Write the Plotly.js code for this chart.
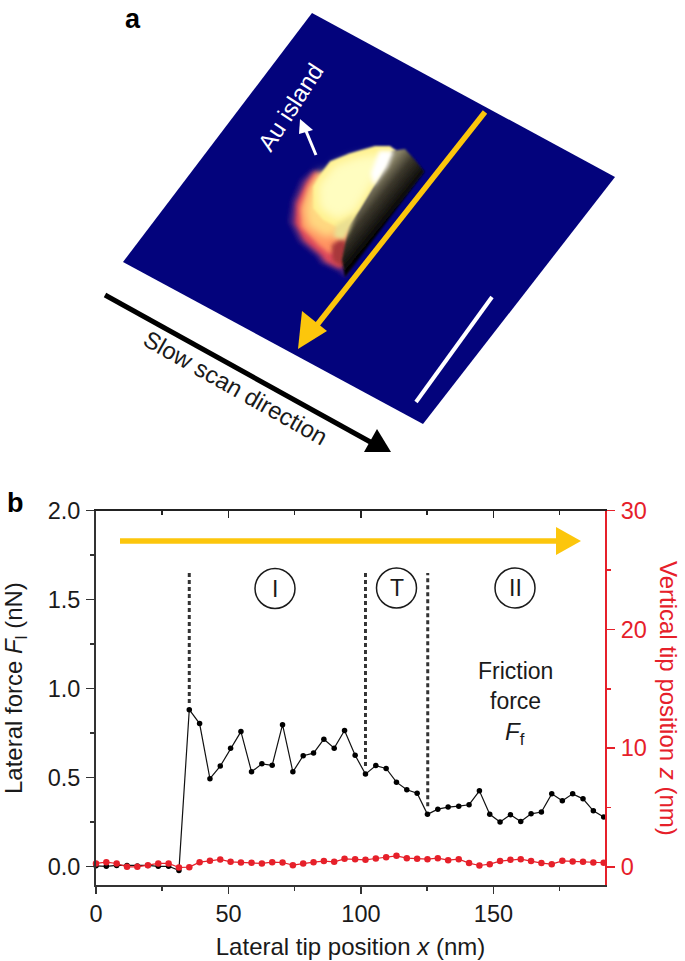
<!DOCTYPE html>
<html>
<head>
<meta charset="utf-8">
<script src="https://cdn.plot.ly/plotly-3.0.1.min.js"></script>
<style>html,body{margin:0;padding:0;background:#fff}#chart{width:685px;height:961px}</style>
</head>
<body>
<div id="chart"></div>
<script>
const tipPosition = [0,3.9,7.8,11.7,15.6,19.6,23.5,27.4,31.3,35.2,39.1,43,46.9,50.8,54.7,58.7,62.6,66.5,70.4,74.3,78.2,82.1,86,89.9,93.8,97.8,101.7,105.6,109.5,113.4,117.3,121.2,125.1,129,132.9,136.9,140.8,144.7,148.6,152.5,156.4,160.3,164.2,168.1,172,176,179.9,183.8,187.7,191.6];
const lateralForce = [0.005,0.002,0.007,0.007,0.004,0.007,0.002,0.002,-0.021,0.882,0.804,0.494,0.565,0.666,0.759,0.533,0.578,0.570,0.798,0.533,0.623,0.638,0.716,0.666,0.765,0.626,0.520,0.568,0.552,0.475,0.432,0.413,0.294,0.323,0.335,0.340,0.348,0.426,0.294,0.251,0.292,0.254,0.297,0.307,0.409,0.370,0.409,0.381,0.314,0.279];
const verticalPosition = [0.28,0.39,0.28,0,0,0.14,0.28,0.28,-0.06,-0.03,0.39,0.5,0.62,0.42,0.36,0.34,0.28,0.39,0.36,0.14,0.28,0.39,0.48,0.42,0.67,0.64,0.59,0.7,0.81,0.92,0.73,0.67,0.64,0.73,0.56,0.64,0.31,0.11,0.22,0.48,0.59,0.64,0.48,0.31,0.22,0.5,0.45,0.42,0.36,0.34];
const regionLabels = ['I','T','II'];

const W = 685, H = 961;
const FONT = 'Liberation Sans, Arial, sans-serif';
const INK = '#1a1a1a', RED = '#e6202a', GOLD = '#fcc60c', NAVY = '#03037c';
const px = x => x / W, py = y => 1 - y / H;
const path = pts => 'M' + pts.map(p => px(p[0]).toFixed(5) + ',' + py(p[1]).toFixed(5)).join('L') + 'Z';
const poly = (pts, fill, layer) => ({type:'path', xref:'paper', yref:'paper', path:path(pts), fillcolor:fill, line:{width:0}, layer:layer||'above'});
const seg = (a, b, color, width) => ({type:'line', xref:'paper', yref:'paper', x0:px(a[0]), y0:py(a[1]), x1:px(b[0]), y1:py(b[1]), line:{color, width}, layer:'above'});
const vdash = (x, y0, y1) => ({type:'line', xref:'x', yref:'y', x0:x, x1:x, y0, y1, line:{color:'#333', width:3, dash:'4px,3px'}, layer:'above'});
const circle = (cx, cy, r) => ({type:'circle', xref:'paper', yref:'paper', x0:px(cx-r), x1:px(cx+r), y0:py(cy+r), y1:py(cy-r), line:{color:INK, width:1.5}, layer:'above'});
const note = (text, x, y, size, color, extra) => Object.assign({text, xref:'paper', yref:'paper', x:px(x), y:py(y), xanchor:'center', yanchor:'middle', showarrow:false, font:{family:FONT, size, color:color||INK}}, extra||{});

const blob = `<svg xmlns="http://www.w3.org/2000/svg" viewBox="0 0 510 480" width="510" height="480">
<defs>
<filter id="b3" x="-30%" y="-30%" width="160%" height="160%"><feGaussianBlur stdDeviation="3"/></filter>
<filter id="b6" x="-30%" y="-30%" width="160%" height="160%"><feGaussianBlur stdDeviation="7"/></filter>
<filter id="b12" x="-30%" y="-30%" width="160%" height="160%"><feGaussianBlur stdDeviation="14"/></filter>
<linearGradient id="dark" gradientUnits="userSpaceOnUse" x1="265" y1="180" x2="345" y2="245"><stop offset="0" stop-color="#8a8468"/><stop offset="0.4" stop-color="#3c382c"/><stop offset="1" stop-color="#020202"/></linearGradient>
</defs>
<polygon filter="url(#b6)" fill="#5a2a80" fill-opacity="0.75" points="98,118 62,150 36,210 26,275 56,335 110,380 120,398 175,424 195,442 215,400 200,300 150,200"/>
<polygon filter="url(#b6)" fill="#dd4a5c" points="108,120 78,155 48,220 44,280 72,332 122,375 136,395 178,415 202,398 210,300 150,200"/>
<polygon filter="url(#b6)" fill="#ff9060" points="118,125 85,175 62,235 64,290 115,345 150,372 200,340 210,260 160,160"/>
<polygon filter="url(#b6)" fill="#a8383a" points="155,345 190,320 212,370 190,412 158,392"/>
<polygon filter="url(#b12)" fill="#ffd880" points="122,120 90,175 72,235 82,290 140,325 195,300 225,250 160,150"/>
<polygon filter="url(#b3)" fill="#fff08c" points="285,48 330,48 348,62 320,115 230,262 200,295 170,290 130,270 100,235 100,170 126,125 150,94 210,70"/>
<polygon filter="url(#b12)" fill="#fffdc0" points="292,72 322,88 225,245 170,270 118,235 115,165 165,105 230,82"/>
<polygon filter="url(#b3)" fill="url(#dark)" points="335,62 375,57 405,90 434,125 195,442 186,390 205,290 240,240 300,140"/>
<polygon filter="url(#b6)" fill="#ffffff" points="298,62 342,62 322,112 280,168 272,130"/>
<polygon filter="url(#b6)" fill="#eadf92" points="168,286 226,252 208,300 192,330 160,320"/>
</svg>`;

const yellowArrow = [seg([485,112],[313,330],GOLD,5.5), poly([[298,349],[302,311],[327,331]],GOLD)];
const topArrow = [seg([120,541],[558,541],GOLD,5.5), poly([[581,541],[556,527],[556,555]],GOLD)];
const blackArrow = [seg([105,295],[374,444],'#000',5), poly([[364,452],[391,452],[377,429]],'#000')];
const whiteArrow = [seg([316,155],[306,131],'#fff',3), poly([[300,119],[299,134],[313,130]],'#fff')];

const shapes = [
  poly([[312,13],[615,177],[423,424],[123,262]],NAVY,'below'),
  ...whiteArrow, ...yellowArrow, ...blackArrow,
  seg([492,297],[416,402],'#fff',4),
  ...topArrow,
  vdash(35.2,0.92,1.65), vdash(101.7,0.565,1.66), vdash(125.2,0.34,1.65),
  circle(275,588.5,20), circle(396.5,588,20), circle(515,588,20)
];

const annotations = [
  note('<b>a</b>',133,19,27,'#000'),
  note('<b>b</b>',15,503,27,'#000'),
  note('Au island',290,107,24,'#fff',{textangle:-57}),
  note('Slow scan direction',235,388,24,INK,{textangle:29.5}),
  note(regionLabels[0],275,588.5,23), note(regionLabels[1],396.5,588,23), note(regionLabels[2],515,588,23),
  note('Friction',515,671,23), note('force',515,701,23), note('<i>F</i><sub>f</sub>',515,733,24),
  note('Lateral force <i>F</i><sub>l</sub> (nN)',15,688,24,INK,{textangle:-90}),
  note('Vertical tip position <i>z</i> (nm)',669,698,24,RED,{textangle:90})
];

const axisBase = {showgrid:false, zeroline:false, showline:true, ticks:'outside', ticklen:8, tickwidth:1.5,
  tickfont:{family:FONT, size:23.5, color:INK}, linewidth:2, linecolor:'#333', tickcolor:'#333'};

const layout = {
  width:W, height:H, margin:{l:0,r:0,t:0,b:0}, paper_bgcolor:'#fff', plot_bgcolor:'rgba(0,0,0,0)', showlegend:false,
  font:{family:FONT},
  xaxis: Object.assign({}, axisBase, {domain:[px(96),px(605)], range:[0,192.1], anchor:'y', ticklen:7, tickvals:[0,50,100,150], ticktext:['0','50','100','150'],
    minor:{tickvals:[25,75,125,175], ticks:'outside', ticklen:4, tickwidth:1.5, tickcolor:'#333'}, ticklabelstandoff:0,
    title:{text:'Lateral tip position <i>x</i> (nm)', font:{family:FONT,size:24,color:INK}, standoff:12}}),
  xaxis2: {overlaying:'x', side:'top', anchor:'y', range:[0,192.1], showgrid:false, zeroline:false, showline:true, linewidth:1.5, linecolor:'#222',
    ticks:'inside', ticklen:7, tickwidth:1.5, tickcolor:'#222', tickvals:[0,50,100,150], showticklabels:false,
    minor:{tickvals:[25,75,125,175], ticks:'inside', ticklen:4, tickwidth:1.5, tickcolor:'#222'}},
  yaxis: Object.assign({}, axisBase, {domain:[1-885/H,1-510.7/H], range:[-0.103,2], anchor:'x', tickvals:[0,0.5,1,1.5,2], ticktext:['0.0','0.5','1.0','1.5','2.0'],
    minor:{tickvals:[0.25,0.75,1.25,1.75], ticks:'outside', ticklen:4, tickwidth:1.5, tickcolor:'#333'}, ticklabelstandoff:1}),
  yaxis2: {overlaying:'y', side:'right', anchor:'x', range:[-1.534,30], showgrid:false, zeroline:false, showline:true, linewidth:2, linecolor:RED,
    ticks:'outside', ticklen:8, tickwidth:1.5, tickcolor:RED, tickvals:[0,10,20,30], ticktext:['0','10','20','30'],
    tickfont:{family:FONT,size:23.5,color:RED}, ticklabelstandoff:1,
    minor:{tickvals:[5,15,25], ticks:'outside', ticklen:4, tickwidth:1.5, tickcolor:RED}},
  shapes, annotations,
  images:[{source:'data:image/svg+xml;charset=utf-8,'+encodeURIComponent(blob), xref:'paper', yref:'paper', x:px(280), y:py(130), sizex:170/W, sizey:160/H, xanchor:'left', yanchor:'top', sizing:'stretch', layer:'above'}]
};

const traces = [
  {type:'scatter', mode:'lines+markers', x:tipPosition, y:lateralForce, xaxis:'x', yaxis:'y', cliponaxis:false,
   line:{color:'#111', width:1.2}, marker:{color:'#000', size:5.5}},
  {type:'scatter', mode:'lines+markers', x:tipPosition, y:verticalPosition, xaxis:'x', yaxis:'y2', cliponaxis:false,
   line:{color:RED, width:1.2}, marker:{color:RED, size:6.5}},
  {type:'scatter', mode:'markers', x:[], y:[], xaxis:'x2', yaxis:'y', hoverinfo:'skip'}
];

Plotly.newPlot('chart', traces, layout, {displayModeBar:false, staticPlot:true});
</script>
</body>
</html>
